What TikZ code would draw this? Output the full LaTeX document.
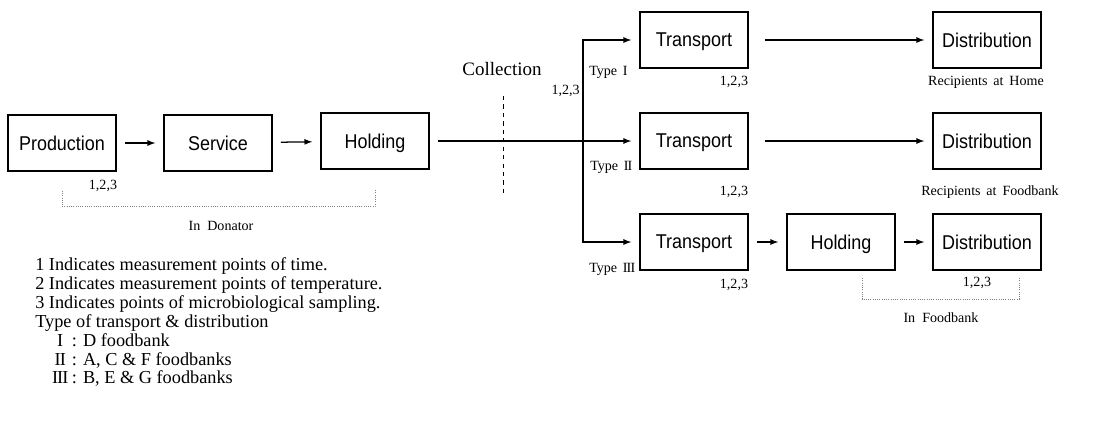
\documentclass[tikz,border=0pt]{standalone}
\usepackage{fontspec}
\setmainfont{Liberation Serif}
\newfontfamily\boxfont[FakeStretch=0.9]{Liberation Sans}
\usetikzlibrary{positioning}

\begin{document}
\begin{tikzpicture}[>=latex, x=0.025cm, y=-0.025cm,
  stage/.style={draw, line width=1.1pt, minimum width=2.7cm, minimum height=1.4cm,
    text depth=0pt, font=\boxfont\fontsize{14.2}{16}\selectfont},
  flow/.style={->, line width=0.9pt, shorten >=0.2cm, shorten <=0.2cm},
  note/.style={font=\fontsize{10}{12}\selectfont, inner sep=0pt},
  bracket/.style={densely dotted, gray, line width=0.6pt}]
  \useasboundingbox (0,0) rectangle (1098,436);
  % in the donator
  \node[stage] (prod) at (62,143) {Production};
  \node[stage] (serv) at (218,143) {Service};
  \node[stage] (hold) at (375,141) {Holding};
  \draw[flow] (prod) -- (serv);
  \draw[flow] (serv) -- (hold);
  \node[note] (p123) at (103,186) {1,2,3};
  \draw[bracket] ([yshift=-0.48cm]prod.south) |- ([yshift=-0.92cm]hold.south)
    -- ([yshift=-0.5cm]hold.south);
  \node[note] (donator) at (221,226) {In\enspace Donator};
  % collection
  \node[font=\fontsize{13.5}{15}\selectfont] (coll) at (502,69) {Collection};
  \draw[dashed, line width=0.6pt] (503,96) -- (503,195);
  \coordinate (split) at (583,141);
  \node[note, anchor=east] (c123) at (580,91) {1,2,3};
  % three types
  \node[stage] (tr1) at (694,40) {Transport};
  \node[stage] (tr2) at (694,141) {Transport};
  \node[stage] (tr3) at (694,242) {Transport};
  \node[stage] (dist1) at (987,40) {Distribution};
  \node[stage] (dist2) at (987,141) {Distribution};
  \node[stage] (hold3) at (841,242) {Holding};
  \node[stage] (dist3) at (987,242) {Distribution};
  \draw[flow] (hold) -- (tr2);
  \draw[flow, shorten <=0pt] (split) |- (tr1);
  \draw[flow, shorten <=0pt] (split) |- (tr3);
  \draw[flow, shorten <=0.4cm] (tr1) -- (dist1);
  \draw[flow, shorten <=0.4cm] (tr2) -- (dist2);
  \draw[flow] (tr3) -- (hold3);
  \draw[flow] (hold3) -- (dist3);
  \node[note, anchor=west] (ty1) at (589,72) {Type\hspace{4pt}I};
  \node[note, anchor=west] (ty2) at (590,167) {Type\hspace{4pt}I\kern-.6ptI};
  \node[note, anchor=west] (ty3) at (589,269) {Type\hspace{4pt}I\kern-.6ptI\kern-.6ptI};
  \node[note] (t123a) at (734,82) {1,2,3};
  \node[note] (t123b) at (734,192) {1,2,3};
  \node[note] (t123c) at (734,285) {1,2,3};
  \node[note] (home) at (986,82) {Recipients\ \,at\ \,Home};
  \node[note] (fbank) at (990,192) {Recipients\ \,at\ \,Foodbank};
  \node[note] (d123) at (977,283) {1,2,3};
  \draw[bracket] (862,278) |- (1019,299) -- (1019,278);
  \node[note] (infood) at (941,318) {In\enspace Foodbank};
  % legend
  \node[anchor=west, align=left, inner sep=0pt, font=\fontsize{13}{13.5}\selectfont] (legend) at (35,322)
    {1 Indicates measurement points of time.\\
     2 Indicates measurement points of temperature.\\
     3 Indicates points of microbiological sampling.\\
     Type of transport \& distribution\\
     \hspace*{4.5mm}\makebox[3.5mm]{I} : D foodbank\\
     \hspace*{4.5mm}\makebox[3.5mm]{I\kern-.6ptI} : A, C \& F foodbanks\\
     \hspace*{4.5mm}\makebox[3.5mm]{I\kern-.6ptI\kern-.6ptI} : B, E \& G foodbanks};
\end{tikzpicture}
\end{document}
